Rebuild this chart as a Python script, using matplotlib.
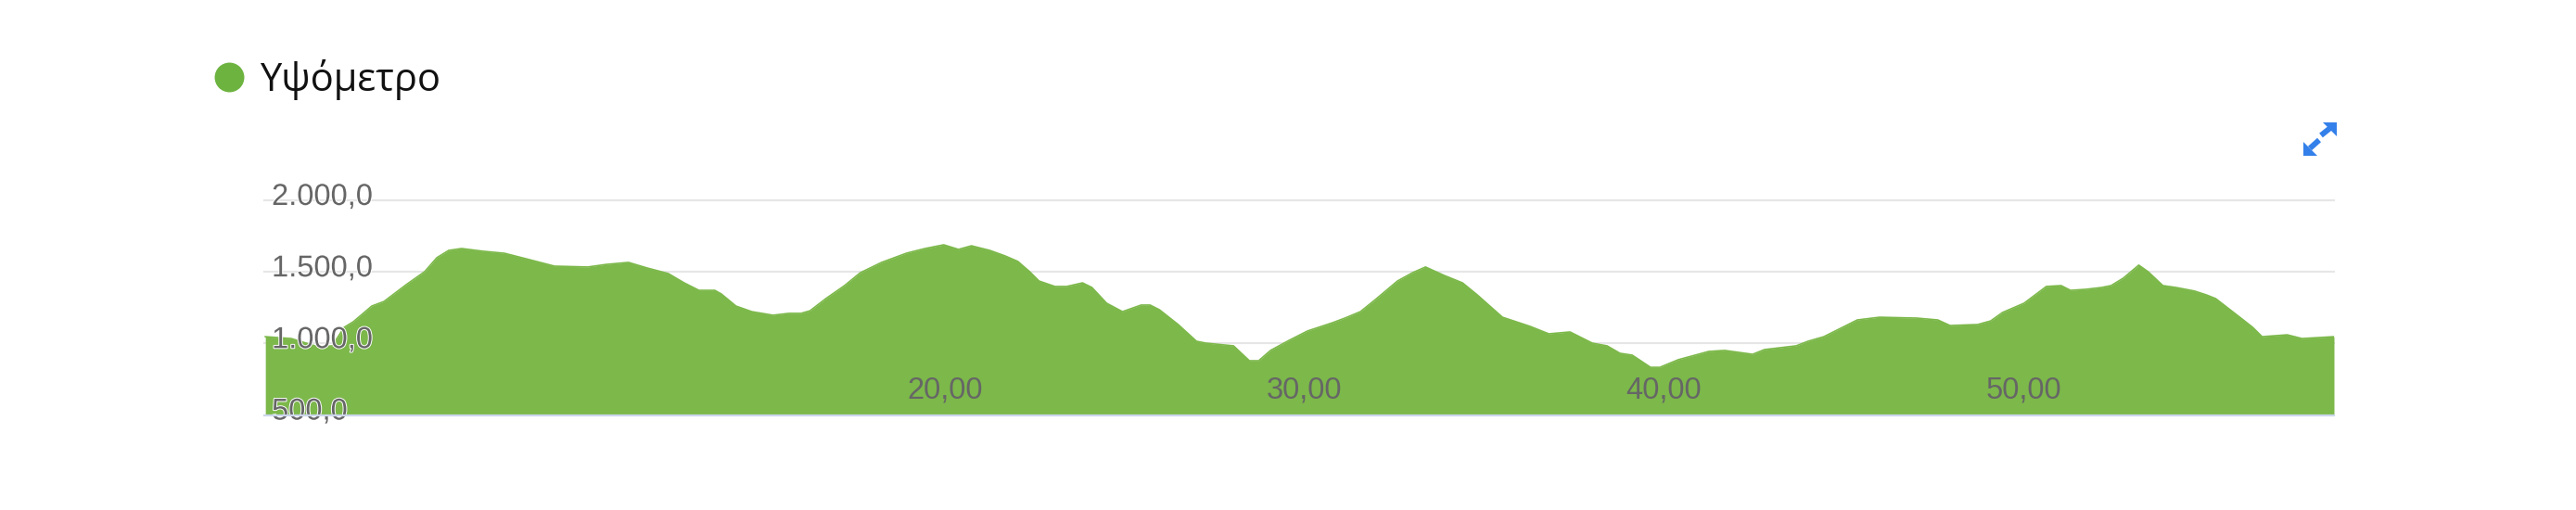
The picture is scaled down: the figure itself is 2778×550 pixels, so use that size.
import matplotlib
matplotlib.use('Agg')
import numpy as np
import matplotlib.pyplot as plt
from matplotlib.lines import Line2D
from matplotlib.patches import Polygon
import matplotlib.patheffects as pe
from matplotlib.transforms import ScaledTranslation

# ---------------- data ----------------
distance_km = [1.10, 1.82, 2.57, 2.96, 3.29, 3.55, 4.06, 4.40, 5.02, 5.53, 5.87, 6.20, 6.56,
               7.16, 7.75, 8.45, 9.14, 10.07, 10.58, 11.20, 11.72, 12.31, 12.75, 13.16, 13.60,
               13.78, 14.19, 14.63, 15.22, 15.66, 16.00, 16.25, 16.69, 17.21, 17.65, 18.24,
               18.94, 19.45, 19.97, 20.38, 20.74, 21.25, 21.67, 22.03, 22.36, 22.62, 23.06,
               23.39, 23.83, 24.09, 24.50, 24.94, 25.46, 25.71, 25.97, 26.49, 27.00, 27.26,
               28.03, 28.47, 28.73, 29.06, 29.58, 30.09, 30.79, 31.13, 31.56, 31.98, 32.59,
               33.01, 33.37, 33.88, 34.40, 34.81, 35.51, 36.28, 36.80, 37.39, 38.01, 38.42,
               38.78, 39.12, 39.63, 39.89, 40.40, 41.25, 41.69, 42.47, 42.80, 43.68, 44.01,
               44.45, 45.38, 46.00, 47.03, 47.62, 47.96, 48.73, 49.09, 49.42, 50.02, 50.64,
               51.05, 51.31, 51.74, 52.18, 52.44, 52.78, 53.21, 53.47, 53.88, 54.24, 54.76,
               55.09, 55.35, 56.05, 56.38, 56.64, 57.34, 57.75, 58.64]
elevation_m = [1047, 1034, 976, 983, 1112, 1152, 1261, 1293, 1411, 1501, 1599, 1650, 1663,
               1644, 1630, 1585, 1540, 1534, 1552, 1566, 1527, 1488, 1423, 1371, 1371,
               1346, 1261, 1222, 1197, 1210, 1210, 1228, 1313, 1404, 1494, 1566,
               1631, 1663, 1689, 1657, 1682, 1650, 1612, 1573, 1501, 1436, 1398,
               1398, 1423, 1391, 1281, 1222, 1268, 1268, 1235, 1132, 1015, 1002,
               983, 879, 879, 951, 1022, 1087, 1145, 1177, 1222, 1307, 1436,
               1494, 1534, 1476, 1423, 1339, 1183, 1119, 1067, 1080, 1002, 983,
               931, 918, 833, 833, 886, 944, 951, 924, 957, 983, 1015,
               1047, 1164, 1183, 1177, 1164, 1125, 1132, 1157, 1216, 1281, 1398,
               1404, 1371, 1378, 1391, 1404, 1456, 1547, 1501, 1404, 1391, 1366,
               1339, 1313, 1177, 1112, 1047, 1060, 1034, 1047]
series_name = "Υψόμετρο"
y_ticks = [500, 1000, 1500, 2000]
y_tick_labels = ["500,0", "1.000,0", "1.500,0", "2.000,0"]
x_ticks = [20, 30, 40, 50]
x_tick_labels = ["20,00", "30,00", "40,00", "50,00"]

# ---------------- figure ----------------
plt.rcParams['font.family'] = ['Liberation Sans', 'DejaVu Sans']
W, H = 2778, 550
fig = plt.figure(figsize=(W / 100, H / 100), dpi=100)
fig.patch.set_facecolor('white')


def fx(px):
    return px / W


def fy(py):
    return 1 - py / H


ax_left, ax_right, ax_top, ax_bottom = 285, 2517, 216, 447.5
ax = fig.add_axes([fx(ax_left), fy(ax_bottom), (ax_right - ax_left) / W, (ax_bottom - ax_top) / H])
ax.set_xlim(1.07, 58.64)
ax.set_ylim(500, 2000)
ax.set_facecolor('none')
ax.set_axisbelow(False)

green = '#7cb84a'
ax.fill_between(distance_km, elevation_m, 500, color=green, lw=0, zorder=1)
ax.plot(distance_km, elevation_m, color=green, lw=1.2, zorder=1.1)

for v in y_ticks[1:]:
    ax.axhline(v, color='#e6e6e6', lw=1.5, zorder=0.5, clip_on=False)

for s in ['left', 'right', 'top']:
    ax.spines[s].set_visible(False)
ax.spines['bottom'].set_color('#ccd6eb')
ax.spines['bottom'].set_linewidth(1.6)
ax.spines['bottom'].set_zorder(3)

ax.set_yticks(y_ticks, labels=y_tick_labels)
ax.set_xticks(x_ticks, labels=x_tick_labels)
ax.tick_params(axis='both', length=0, labelsize=23.5, labelcolor='#666666')
ax.tick_params(axis='y', pad=-5.8)
ax.tick_params(axis='x', pad=-12.6)

for t in ax.yaxis.get_major_ticks():
    lab = t.label1
    lab.set_horizontalalignment('left')
    lab.set_verticalalignment('baseline')
    lab.set_transform(lab.get_transform() + ScaledTranslation(0, -5 / 100, fig.dpi_scale_trans))
    lab.set_path_effects([pe.withStroke(linewidth=1.4, foreground='white')])
for t in ax.xaxis.get_major_ticks():
    t.label1.set_verticalalignment('baseline')

# ---------------- legend ----------------
handle = Line2D([], [], marker='o', ls='', ms=23, color='#6db33f', mec='none')
leg = fig.legend(handles=[handle], labels=[series_name], loc='center left',
                 bbox_to_anchor=(fx(231), fy(86)), frameon=False, borderpad=0,
                 borderaxespad=0, handlelength=0.75, handletextpad=0.42,
                 prop={'family': ['Open Sans', 'DejaVu Sans'], 'size': 30})
leg.get_texts()[0].set_color('#111111')

# ---------------- expand icon ----------------
blue = '#3480ea'


def poly(pts):
    fig.add_artist(Polygon([(fx(x), fy(y)) for x, y in pts], closed=True,
                           transform=fig.transFigure, color=blue, lw=0))


def shaft(p1, p2, w):
    p1 = np.array(p1, float)
    p2 = np.array(p2, float)
    d = p2 - p1
    d /= np.hypot(*d)
    n = np.array([-d[1], d[0]]) * w / 2
    poly([p1 + n, p2 + n, p2 - n, p1 - n])


poly([(2505, 132), (2520, 132), (2520, 147)])
shaft((2503, 146), (2513, 138), 6)
poly([(2484, 153), (2484, 168), (2499, 168)])
shaft((2501, 151), (2491, 160), 6)

fig.savefig('out.png', dpi=100, facecolor='white')
